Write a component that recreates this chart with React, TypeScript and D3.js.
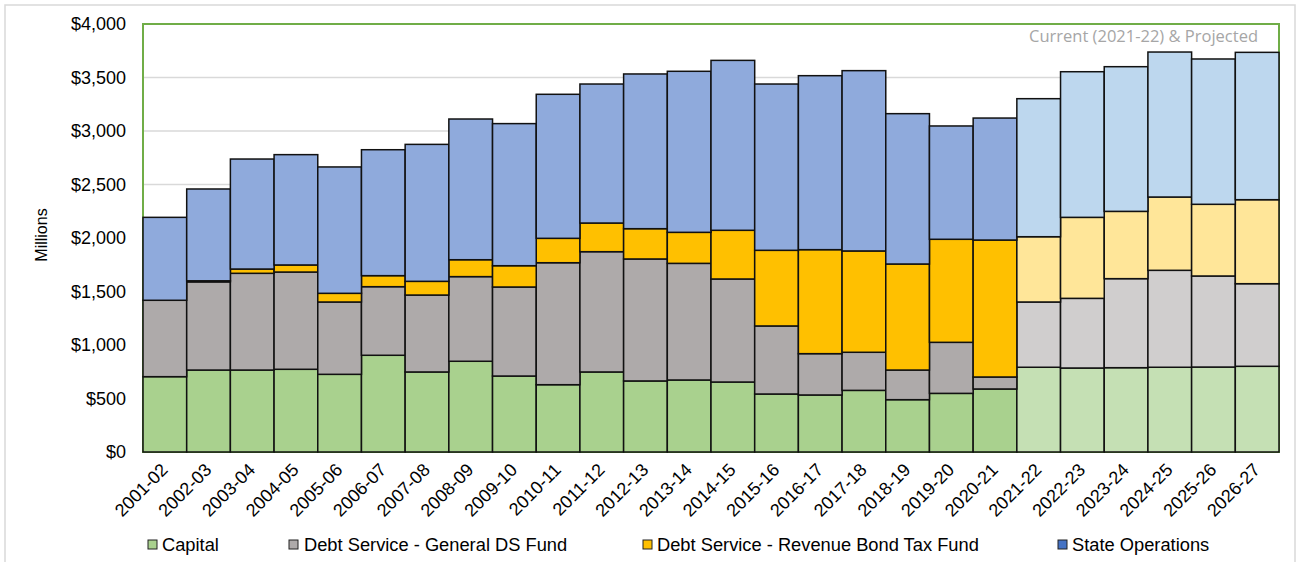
import React from "react";
import * as d3 from "d3";

// Fiscal years shown on the x axis
const years = [
  "2001-02", "2002-03", "2003-04", "2004-05", "2005-06", "2006-07", "2007-08",
  "2008-09", "2009-10", "2010-11", "2011-12", "2012-13", "2013-14", "2014-15",
  "2015-16", "2016-17", "2017-18", "2018-19", "2019-20", "2020-21", "2021-22",
  "2022-23", "2023-24", "2024-25", "2025-26", "2026-27",
];

// First year that is current / projected (drawn in lighter shades)
const firstProjected = "2021-22";

// Spending by fund ($ millions)
const capital = [
  704, 766, 766, 773, 726, 904, 748, 848, 710, 629, 748, 664, 673, 654,
  542, 533, 576, 489, 548, 589, 792, 785, 788, 792, 794, 801,
];
const generalDS = [
  714, 824, 904, 909, 676, 641, 719, 791, 832, 1140, 1124, 1140, 1090, 963,
  636, 386, 356, 277, 477, 112, 610, 651, 832, 906, 851, 772,
];
const revenueBondTax = [
  0, 10, 40, 66, 81, 103, 128, 158, 199, 228, 268, 283, 290, 455,
  707, 972, 947, 991, 963, 1280, 610, 757, 629, 685, 670, 785,
];
const stateOperations = [
  775, 858, 1028, 1031, 1181, 1177, 1280, 1315, 1328, 1346, 1299, 1446, 1505, 1588,
  1554, 1626, 1685, 1405, 1059, 1140, 1290, 1361, 1352, 1355, 1358, 1377,
];

const yTicks = [0, 500, 1000, 1500, 2000, 2500, 3000, 3500, 4000];

const seriesNames = [
  "Capital",
  "Debt Service - General DS Fund",
  "Debt Service - Revenue Bond Tax Fund",
  "State Operations",
];
const seriesValues = [capital, generalDS, revenueBondTax, stateOperations];

const actualColors = ["#A9D18E", "#AEAAAA", "#FFC000", "#8FAADC"];
const projectedColors = ["#C5E0B4", "#D0CECE", "#FFE699", "#BDD7EE"];
const legendColors = ["#A9D18E", "#AEAAAA", "#FFC000", "#4472C4"];

const W = 1299;
const H = 562;
const plot = { left: 143, right: 1279, top: 24, bottom: 452 };

const font = "'Liberation Sans', Arial, sans-serif";

export default function App() {
  const x = d3
    .scaleBand<string>()
    .domain(years)
    .range([plot.left, plot.right])
    .paddingInner(0)
    .paddingOuter(0);
  const y = d3.scaleLinear().domain([0, 4000]).range([plot.bottom, plot.top]);

  const rows = years.map((yr, i) => {
    const r: Record<string, number | string> = { year: yr };
    seriesNames.forEach((n, k) => (r[n] = seriesValues[k][i]));
    return r;
  });
  const stack = d3.stack<Record<string, number | string>>().keys(seriesNames);
  const layers = stack(rows as any);
  const projIdx = years.indexOf(firstProjected);

  const legendItems = [
    { x: 148, tx: 162 },
    { x: 289, tx: 304 },
    { x: 643, tx: 657 },
    { x: 1058, tx: 1072 },
  ];

  return (
    <svg
      width={W}
      height={H}
      style={{ position: "absolute", left: 0, top: 0, background: "#fff" }}
      fontFamily={font}
    >
      {/* outer chart frame */}
      <rect x={5} y={5} width={1290} height={H + 10} fill="none" stroke="#D9D9D9" strokeWidth={1.5} />

      {/* horizontal gridlines */}
      {yTicks.map((t) => (
        <line
          key={t}
          x1={plot.left}
          x2={plot.right}
          y1={y(t)}
          y2={y(t)}
          stroke="#D9D9D9"
          strokeWidth={1.5}
        />
      ))}

      {/* plot area border */}
      <rect
        x={plot.left}
        y={plot.top}
        width={plot.right - plot.left}
        height={plot.bottom - plot.top}
        fill="none"
        stroke="#70AD47"
        strokeWidth={2}
      />

      {/* stacked bars */}
      {layers.map((layer, k) => (
        <g key={seriesNames[k]}>
          {layer.map((d, i) => {
            const yr = years[i];
            const h = y(d[0]) - y(d[1]);
            if (h <= 0) return null;
            return (
              <rect
                key={yr}
                x={x(yr)!}
                y={y(d[1])}
                width={x.bandwidth()}
                height={h}
                fill={i >= projIdx ? projectedColors[k] : actualColors[k]}
                stroke="#111"
                strokeWidth={1.5}
              />
            );
          })}
        </g>
      ))}

      {/* y axis labels */}
      {yTicks.map((t) => (
        <text
          key={t}
          x={126}
          y={y(t)}
          dy="0.35em"
          textAnchor="end"
          fontSize={18}
          fill="#000"
        >
          {d3.format("$,")(t)}
        </text>
      ))}
      <text
        transform={`translate(47,235) rotate(-90)`}
        textAnchor="middle"
        fontSize={16}
        fill="#000"
      >
        Millions
      </text>

      {/* x axis labels */}
      {years.map((yr) => {
        const cx = x(yr)! + x.bandwidth() / 2 + 4;
        return (
          <text
            key={yr}
            transform={`translate(${cx},471) rotate(-45)`}
            textAnchor="end"
            fontSize={18}
            fill="#000"
          >
            {yr}
          </text>
        );
      })}

      <text
        x={1258}
        y={42}
        textAnchor="end"
        fontSize={16.5}
        fontFamily="'Open Sans', sans-serif"
        fill="#A6A6A6"
      >
        Current (2021-22) &amp; Projected
      </text>

      {/* legend */}
      {seriesNames.map((n, k) => (
        <g key={n}>
          <rect
            x={legendItems[k].x}
            y={540}
            width={9}
            height={9}
            fill={legendColors[k]}
            stroke="#222"
            strokeWidth={1}
          />
          <text x={legendItems[k].tx} y={551} fontSize={18.3} fill="#000">
            {n}
          </text>
        </g>
      ))}
    </svg>
  );
}
